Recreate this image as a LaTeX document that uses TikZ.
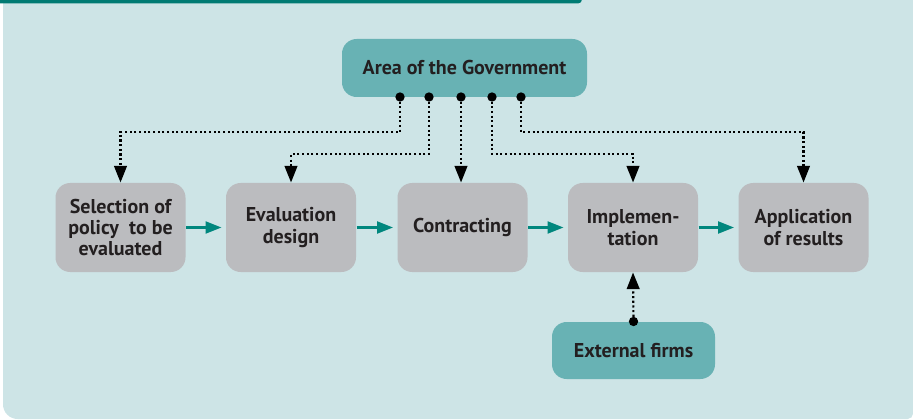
\documentclass[tikz,border=0pt]{standalone}
\usepackage{fontspec}
\setmainfont{PT Sans}
\usetikzlibrary{arrows.meta}

\definecolor{panelblue}{RGB}{205,228,230}
\definecolor{bartealdark}{RGB}{0,123,115}
\definecolor{govteal}{RGB}{104,178,180}
\definecolor{stepgray}{RGB}{187,188,191}
\definecolor{flowteal}{RGB}{0,135,126}
\definecolor{inkdark}{RGB}{35,31,32}

\tikzset{every picture/.style={line width=0.75pt}}
\tikzset{
  stepbox/.style={fill=stepgray, rounded corners=11pt, minimum width=97.5pt, minimum height=66.75pt,
    align=center, text=inkdark, font=\fontsize{15}{16}\selectfont\bfseries, inner sep=1pt},
  govbox/.style={fill=govteal, rounded corners=11pt, align=center, text=inkdark,
    font=\fontsize{15}{16}\selectfont\bfseries},
  dot/.style={circle, fill=black, inner sep=0pt, minimum size=7pt},
  govlink/.style={line width=1.6pt, dash pattern=on 1.6pt off 1.9pt, -{Triangle[length=12.5pt,width=9.5pt]}},
  flow/.style={flowteal, line width=1.6pt, shorten >=3pt, -{Triangle[length=12pt,width=9pt]}}
}

\begin{document}
\begin{tikzpicture}[x=0.75pt,y=0.75pt,yscale=-1,xscale=1]
        \useasboundingbox (0,0) rectangle (913,420);

        %Shape: Panel
        \fill[panelblue] (3,-5) [rounded corners=11pt] -- (3,419) [rounded corners=4pt] -- (913,419) [sharp corners] -- (913,-5) -- cycle ;
        %Shape: Top bar
        \fill[bartealdark, rounded corners=3pt] (-10,-6) rectangle (582,3.5) ;

        % Text Node
        \node[govbox, minimum width=183.75pt, minimum height=43.5pt] (area) at (464.5,68) {Area of the Government};
        % Text Node
        \node[stepbox] (sel) at (120.5,227.5) {Selection of\\policy~ to be\\evaluated};
        % Text Node
        \node[stepbox] (des) at (291,227.5) {Evaluation\\design};
        % Text Node
        \node[stepbox] (con) at (462.5,227.5) {Contracting};
        % Text Node
        \node[stepbox] (imp) at (633,227.5) {Implemen-\\tation};
        % Text Node
        \node[stepbox] (app) at (803.5,227.5) {Application\\of results};
        % Text Node
        \node[govbox, minimum width=122.25pt, minimum height=42.75pt] (ext) at (633.5,350.5) {External firms};

        %Straight Lines
        \draw[flow] (sel) -- (des) ;
        \draw[flow] (des) -- (con) ;
        \draw[flow] (con) -- (imp) ;
        \draw[flow] (imp) -- (app) ;

        %Dots
        \node[dot] (g1) at (400,97) {};
        \node[dot] (g2) at (429,97) {};
        \node[dot] (g3) at (461,97) {};
        \node[dot] (g4) at (492,97) {};
        \node[dot] (g5) at (521,97) {};
        \node[dot] (f1) at (ext.north) {};

        %Dotted Lines
        \draw[govlink] (g1.center) -- ++(0,35) -| (sel.north) ;
        \draw[govlink] (g2.center) -- ++(0,57) -| (des.north) ;
        \draw[govlink] (g3.center) -- (g3.center |- con.north) ;
        \draw[govlink] (g4.center) -- ++(0,57) -| (imp.north) ;
        \draw[govlink] (g5.center) -- ++(0,35) -| (app.north) ;
        \draw[govlink] (f1.center) -- (imp.south) ;
\end{tikzpicture}
\end{document}
